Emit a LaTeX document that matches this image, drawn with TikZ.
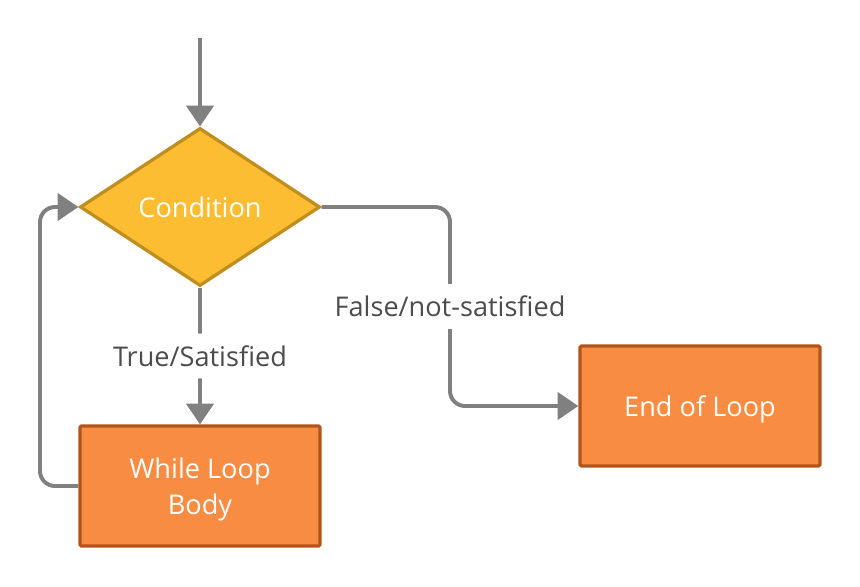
\documentclass[tikz,border=0pt]{standalone}
\usepackage{fontspec}
\setmainfont{Open Sans}
\usetikzlibrary{arrows.meta,positioning,shapes.geometric}
\definecolor{cond}{HTML}{FCBD33}
\definecolor{condline}{HTML}{BF8E1E}
\definecolor{block}{HTML}{F98C43}
\definecolor{blockline}{HTML}{B0541B}
\definecolor{flow}{HTML}{808080}
\definecolor{labeltext}{HTML}{4D4D4D}
\tikzset{
  decision/.style={diamond, fill=cond, draw=condline, line width=2.3pt,
    minimum width=6cm, minimum height=3.95cm, inner sep=0pt, text depth=0pt,
    text=white, font=\fontsize{19.3}{26}\selectfont},
  stepbox/.style={rectangle, fill=block, draw=blockline, line width=2.3pt,
    rounded corners=1pt, minimum width=6cm, minimum height=3cm, text depth=0pt,
    text=white, align=center, font=\fontsize{19.3}{26}\selectfont},
  flowline/.style={draw=flow, line width=2.8pt, rounded corners=0.375cm,
    -{Triangle[length=0.52cm,width=0.68cm]}},
  edgelabel/.style={fill=white, text=labeltext, inner xsep=2pt, inner ysep=0.3cm,
    text depth=0pt, font=\fontsize{19.3}{24}\selectfont}
}

\begin{document}
\begin{tikzpicture}[x=0.025cm, y=-0.025cm]
  \useasboundingbox (0,0) rectangle (860,586);
  \node[decision] (cond) at (200,207) {Condition};
  \node[stepbox] (body) at (200,486) {While Loop\\Body};
  \node[stepbox] (end) at (700,406) {End of Loop};
  \coordinate (entry) at (200,38);
  \coordinate (fturn) at (450,406);
  \coordinate (lturn) at (40,486);

  \draw[flowline] (entry) -- (cond.north);
  \draw[flowline] (cond.south) -- node[edgelabel] {True/Satisfied} (body.north);
  \draw[flowline] (cond.east) -| node[edgelabel, pos=0.75] {False/not-satisfied} (fturn) -- (end.west);
  \draw[flowline] (body.west) -- (lturn) |- (cond.west);
\end{tikzpicture}
\end{document}
